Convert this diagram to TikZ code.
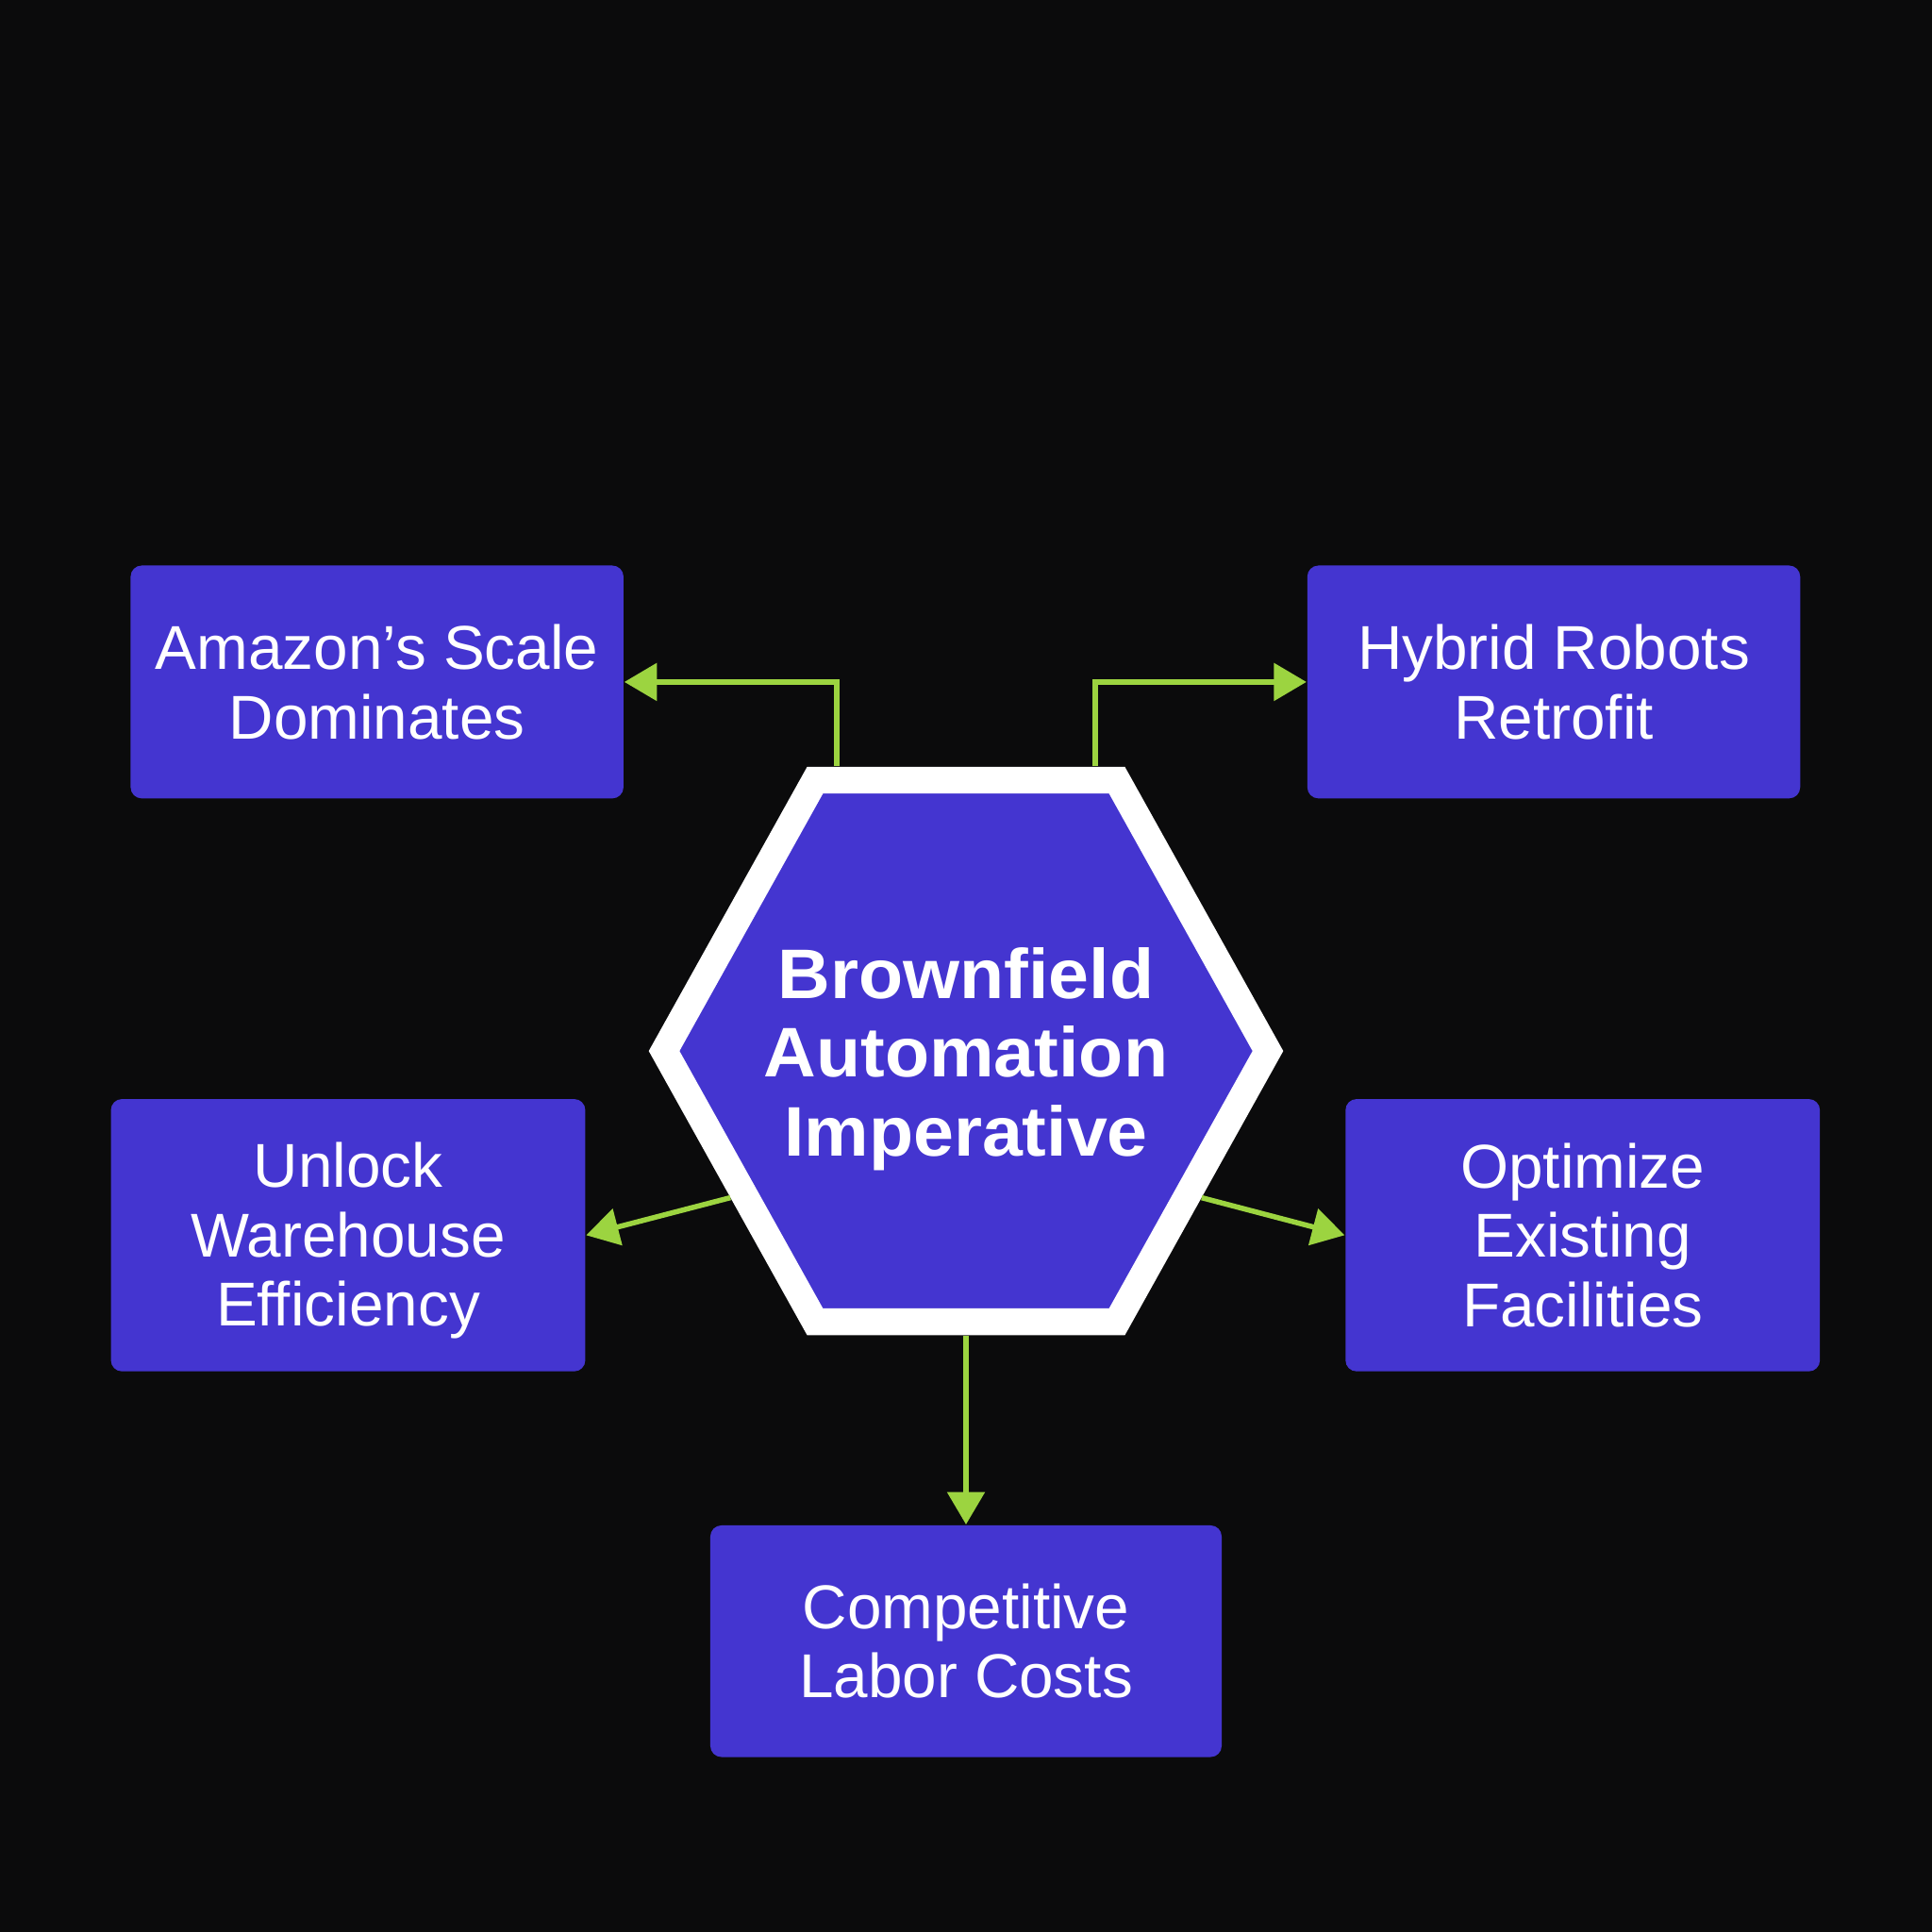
\documentclass[tikz,border=0pt]{standalone}
\usepackage{fontspec}
\setmainfont{Liberation Sans}
\usepackage{xcolor}
\usepackage{tikz}
\usetikzlibrary{arrows.meta,calc,shapes.geometric}
\definecolor{dnight}{RGB}{11,11,12}
\definecolor{dindigo}{RGB}{68,53,208}
\definecolor{dlime}{RGB}{156,212,64}
\tikzset{
  card/.style={fill=dindigo,rounded corners=0.09cm,inner sep=0pt,align=center,
    text=white,font=\fontsize{14.3}{16}\selectfont},
  hub/.style={regular polygon,regular polygon sides=6,minimum size=4.9cm,inner sep=0pt,
    draw=white,line width=6.2pt,fill=dindigo,yscale=1.036,transform shape},
  hubtext/.style={align=center,text=white,yshift=-0.065cm,yscale=1/1.036,
    font=\bfseries\fontsize{16.8}{18.9}\selectfont},
  link/.style={-{Triangle[length=7.5pt,width=8.5pt]},line width=1.2pt,dlime}
}

\begin{document}
\begin{tikzpicture}
  \fill[dnight] (0,0) rectangle (15.68,15.68);
  \node[hub,label={[hubtext]center:Brownfield\\Automation\\Imperative}] (core) at (7.84,7.15) {};
  \node[card,minimum width=4.00cm,minimum height=1.89cm] (scale) at (3.06,10.145) {Amazon’s Scale\\Dominates};
  \node[card,minimum width=4.00cm,minimum height=1.89cm] (retro) at (12.61,10.145) {Hybrid Robots\\Retrofit};
  \node[card,minimum width=3.85cm,minimum height=2.21cm] (unlock) at (2.825,5.655) {\rule{0pt}{13pt}Unlock\\Warehouse\\Efficiency};
  \node[card,minimum width=3.85cm,minimum height=2.21cm] (optim) at (12.845,5.655) {Optimize\\Existing\\Facilities};
  \node[card,minimum width=4.15cm,minimum height=1.88cm] (labor) at (7.84,2.36) {Competitive\\Labor Costs};
  \draw[link] ([xshift=-1.05cm]core.north) |- (scale.east);
  \draw[link] ([xshift=1.05cm]core.north) |- (retro.west);
  \draw[link] (core.211) -- (unlock.east);
  \draw[link] (core.-31) -- (optim.west);
  \draw[link] (core.south) -- (labor.north);
\end{tikzpicture}
\end{document}
